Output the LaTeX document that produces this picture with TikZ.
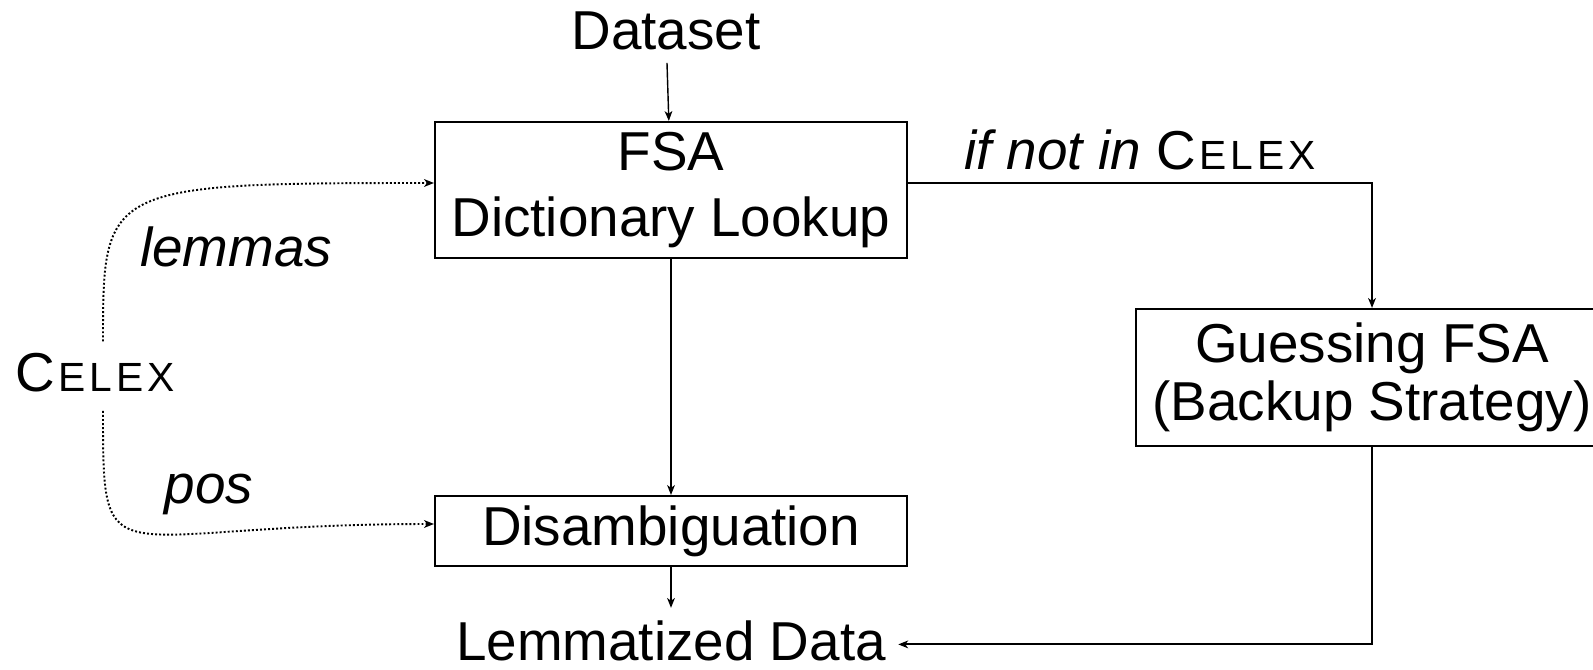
\documentclass[tikz,border=0pt]{standalone}
\usepackage{fontspec}
\setmainfont{Liberation Sans}
\usetikzlibrary{arrows.meta}
\newcommand{\celexname}{C\kern1.1pt{\fontsize{11.6}{12}\selectfont E\kern1.1pt L\kern1.1pt E\kern1.1pt X}}

\begin{document}
\begin{tikzpicture}[
    font=\fontsize{15.6}{18.7}\selectfont,
    box/.style={draw, line width=0.6pt, minimum width=4.72cm, align=center, inner sep=2pt},
    arr/.style={-{Stealth[length=2.8pt,width=2.2pt,inset=0.8pt]}, line width=0.4pt},
    route/.style={arr, line width=0.55pt},
    dots/.style={arr, dash pattern=on 0.55pt off 0.6pt, line width=0.55pt},
    lbl/.style={anchor=base, font=\fontsize{15.6}{18.7}\selectfont\itshape}
  ]
  \useasboundingbox (0,0) rectangle (15.93,-6.70);
  % ------------- main column -------------
  \node[anchor=base] (dataset) at (6.66,-0.50) {Dataset};
  \node[box, minimum height=1.36cm] (fsa) at (6.71,-1.90) {FSA\\Dictionary Lookup};
  \node[box, minimum height=0.70cm] (disamb) at (6.71,-5.31) {Disambiguation};
  \node[anchor=base] (lemdata) at (6.71,-6.60) {Lemmatized Data};
  \draw[arr] (dataset) -- (fsa);
  \draw[arr] (fsa) -- (disamb);
  \draw[arr] (disamb) -- (lemdata);
  % ------------- backup branch -------------
  \node[box, minimum height=1.37cm] (guess) at (13.72,-3.775) {Guessing FSA\\[-2.3pt](Backup Strategy)};
  \draw[route] ([yshift=0.07cm]fsa.east) -| node[pos=0.25, above] (ifnot) {\textit{if not in} \celexname} (guess.north);
  \draw[route] (guess.south) |- ([yshift=-0.04cm]lemdata.east);
  % ------------- lexicon input -------------
  \node[anchor=base] (celex) at (0.95,-3.92) {\celexname};
  \node[lbl] (lemmas) at (2.36,-2.67) {lemmas};
  \node[lbl] (pos) at (2.09,-5.03) {pos};
  \draw[dots] ([xshift=0.08cm]celex.north) to[out=90, in=180, out distance=1.55cm, in distance=3.3cm] ([yshift=0.07cm]fsa.west);
  \draw[dots] ([xshift=0.08cm, yshift=-0.06cm]celex.south) to[out=-90, in=180, out distance=1.75cm, in distance=3.3cm] ([yshift=0.07cm]disamb.west);
\end{tikzpicture}
\end{document}
